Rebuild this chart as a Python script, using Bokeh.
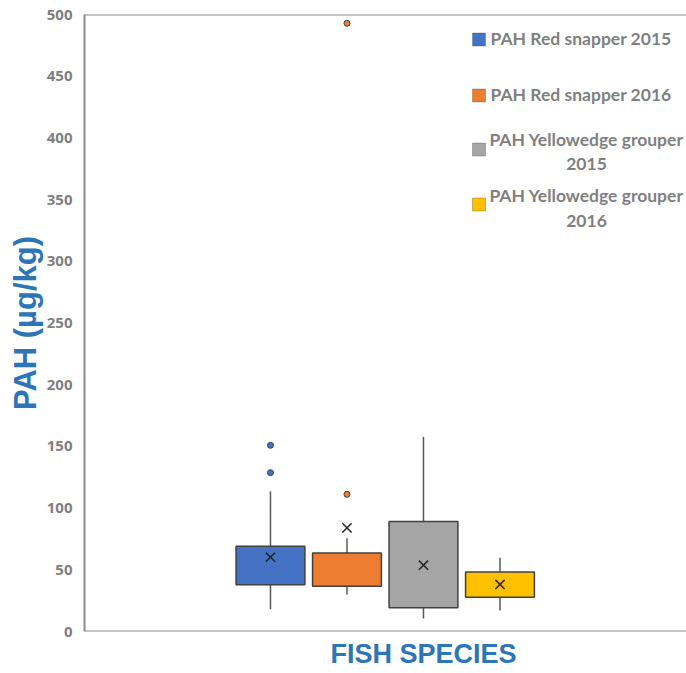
from bokeh.plotting import figure
from bokeh.models import (Range1d, Span, Title, Label, BoxAnnotation, ColumnDataSource)
from bokeh.embed import file_html
from bokeh.resources import INLINE

# ---------------- data ----------------
series = ["PAH Red snapper 2015", "PAH Red snapper 2016",
          "PAH Yellowedge grouper\n2015", "PAH Yellowedge grouper\n2016"]
colors = ["#4472C4", "#ED7D31", "#A5A5A5", "#FFC000"]
whisker_low = [18.1, 30.0, 10.5, 17.0]
q1 = [37.8, 36.7, 19.2, 27.8]
median = [48.8, 52.1, 39.1, 39.7]
q3 = [69.1, 63.7, 89.1, 48.3]
whisker_high = [113.6, 75.5, 157.7, 59.7]
means = [60.2, 84.0, 53.7, 38.1]
outlier_series = [0, 0, 1, 1]
outlier_values = [150.9, 128.7, 111.2, 492.9]
y_ticks = [0, 50, 100, 150, 200, 250, 300, 350, 400, 450, 500]
x_title = "FISH SPECIES"
y_title = "PAH (µg/kg)"

BLUE = "#2E75B6"
GRAY_TXT = "#7F7F7F"
AXIS = "#8C8C8C"

xs = list(range(len(series)))
box_w = 0.90
cap_w = 0.26

# frame: x 84..686, y 14..632 (page px)
p = figure(width=686, height=673, output_backend="svg", toolbar_location=None,
           x_range=Range1d(-2.431, 5.438), y_range=Range1d(0, 500),
           min_border_left=84, min_border_right=0, min_border_top=14,
           min_border_bottom=41)
p.outline_line_color = None
p.grid.visible = False
p.background_fill_color = "white"
p.border_fill_color = "white"

# y axis
p.yaxis.ticker = y_ticks
p.yaxis.axis_line_color = AXIS
p.yaxis.axis_line_width = 2
p.yaxis.major_tick_line_color = None
p.yaxis.minor_tick_line_color = None
p.yaxis.major_label_text_font = "Open Sans"
p.yaxis.major_label_text_font_style = "bold"
p.yaxis.major_label_text_font_size = "15px"
p.yaxis.major_label_text_color = GRAY_TXT
p.yaxis.major_label_standoff = 6
p.yaxis.axis_label = y_title
p.yaxis.axis_label_text_font = "Liberation Sans"
p.yaxis.axis_label_text_font_style = "bold"
p.yaxis.axis_label_text_font_size = "31px"
p.yaxis.axis_label_text_color = BLUE
p.yaxis.axis_label_standoff = 1

p.xaxis.visible = False

p.add_layout(Span(location=500, dimension="width", line_color=AXIS, line_width=2))
p.add_layout(Span(location=0, dimension="width", line_color=AXIS, line_width=2))

FL, FB = 84, 632          # frame left / bottom in page pixels

# x-axis title below the frame
p.add_layout(Title(text=x_title, align="left", offset=330 - FL,
                   text_font="Liberation Sans", text_font_style="bold",
                   text_font_size="27px", text_color=BLUE, standoff=10), "below")

src = ColumnDataSource(dict(x=xs, lo=whisker_low, q1=q1, med=median, q3=q3,
                            hi=whisker_high, mean=means, color=colors))

# whiskers
p.segment(x0="x", y0="lo", x1="x", y1="q1", source=src, line_color="#595959", line_width=1.5)
p.segment(x0="x", y0="q3", x1="x", y1="hi", source=src, line_color="#595959", line_width=1.5)
p.rect(x="x", y="lo", width=cap_w, height=0, source=src, line_color="#595959", line_width=1.5)
p.rect(x="x", y="hi", width=cap_w, height=0, source=src, line_color="#595959", line_width=1.5)

# boxes
p.vbar(x="x", bottom="q1", top="q3", width=box_w, source=src,
       fill_color="color", line_color="#404040", line_width=1.5)
# median
p.rect(x="x", y="med", width=box_w, height=0, source=src, line_color="#404040", line_width=1.5)
# means
p.scatter(x="x", y="mean", source=src, marker="x", size=13, line_color="#262626", line_width=1.5)
# outliers
p.scatter(x=outlier_series, y=outlier_values, marker="circle", size=6,
          fill_color=[colors[s] for s in outlier_series], line_color="#404040", line_width=1)

# ---------------- legend (screen units, relative to the frame) ----------------
sq_x0, sq_x1 = 472, 485   # legend square left/right (page px)
text_x0 = 490
legend_sq_y = [40, 96, 150, 205]
legend_text_y = [39, 95, 152, 208.5]
legend_text_cx = [None, None, 586, 586]
for i in xs:
    yc = FB - legend_sq_y[i]
    p.add_layout(BoxAnnotation(left=sq_x0 - FL, right=sq_x1 - FL, bottom=yc - 6.5, top=yc + 6.5,
                               left_units="screen", right_units="screen",
                               bottom_units="screen", top_units="screen",
                               fill_color=colors[i], fill_alpha=1.0,
                               line_color="#404040", line_width=1))
    multi = "\n" in series[i]
    p.add_layout(Label(x=(legend_text_cx[i] if multi else text_x0) - FL,
                       y=FB - legend_text_y[i], x_units="screen", y_units="screen",
                       text=series[i], text_align="center" if multi else "left",
                       text_baseline="middle", text_font="Lato", text_font_style="bold",
                       text_font_size="17.5px", text_color=GRAY_TXT, text_line_height=1.15))

open("out.html", "w").write(file_html(p, INLINE))
